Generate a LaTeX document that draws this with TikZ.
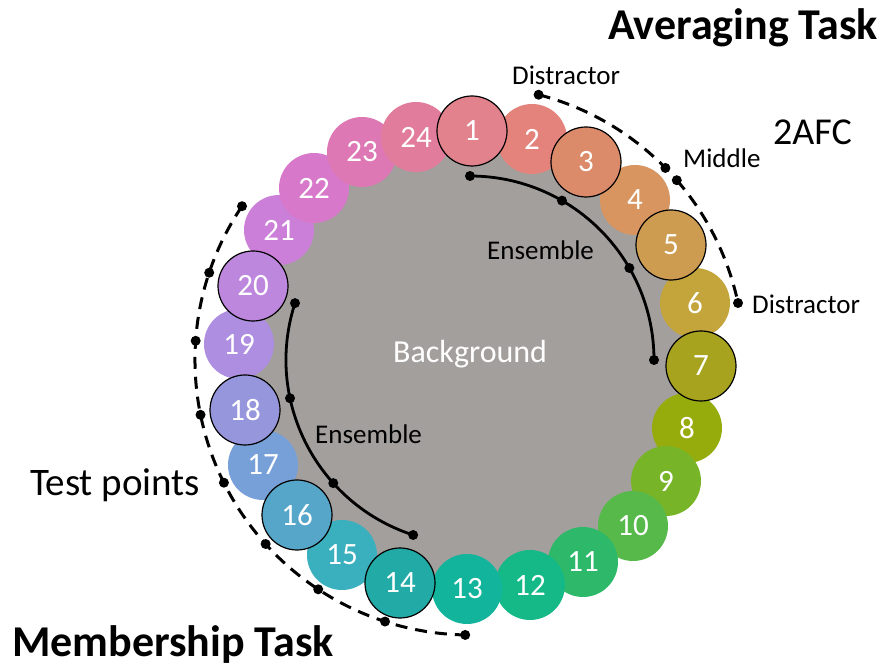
\documentclass[tikz,border=0pt]{standalone}
\usepackage{fontspec}
\setmainfont{Carlito}
\begin{document}
\begin{tikzpicture}[x=1pt,y=1pt,
  disk/.style={circle,minimum size=70,inner sep=0pt,text=white,font=\fontsize{31}{31}\selectfont},
  ringed/.style={draw=black,line width=1.2pt},
  tag/.style={inner sep=0pt,anchor=base west,font=\fontsize{27}{27}\selectfont},
  bigtag/.style={inner sep=0pt,anchor=base west,font=\fontsize{38}{38}\selectfont},
  task/.style={inner sep=0pt,font=\fontsize{44}{44}\selectfont\bfseries},
  ens/.style={line width=2.8pt},
  tst/.style={line width=3pt,dash pattern=on 12pt off 8pt}]
\useasboundingbox (0,0) rectangle (883,668);
\coordinate (ctr) at (470,308);
% background disc
\definecolor{bggray}{RGB}{163,159,157}
\node[circle,fill=bggray,minimum size=436,inner sep=0pt] (bg) at (ctr) {};
\node[tag,text=white,font=\fontsize{32}{32}\selectfont] (bgtxt) at (393,305) {Background};
% plain discs
\foreach \n/\x/\y/\c in {2/532/529/E3837B,4/635/468/D8955F,6/695/365/C3A53C,8/687/240/96AC0C,
  9/666/187/78B428,10/633/142/56B94A,11/583/106/2EB96A,12/530/83/14B987,13/467/79/12B49C,
  15/342/113/3AAFBE,17/263/203/78A0D8,19/239/324/AE8EE0,21/279/438/CC7FD8,
  22/314/480/D778CA,23/362/516/DE78B4,24/416/531/E27C9C}{
  \definecolor{diskcol}{HTML}{\c}
  \node[disk,fill=diskcol] (d\n) at (\x,\y) {\n};
}
% ringed discs
\foreach \n/\x/\y/\c in {1/472/537/E2828C,3/586/506/DB8A6A,5/671/423/CD9C50,7/701/302/A8A31E,
  14/400/85/22AAA6,16/297/153/55A6C8,18/245/258/9696DC,20/253/382/BE87DE}{
  \definecolor{diskcol}{HTML}{\c}
  \node[disk,ringed,fill=diskcol] (d\n) at (\x,\y) {\n};
}
% ensemble arcs
\coordinate (ensR) at ([shift={(ctr)}]90:184);
\coordinate (ensL) at ([shift={(ctr)}]162:184);
\draw[ens] (ensR) arc[start angle=90,end angle=0,radius=184];
\draw[ens] (ensL) arc[start angle=162,end angle=252,radius=184];
\foreach \a in {90,60,30,0,162,192,222,252} \fill ([shift={(ctr)}]\a:184) circle[radius=5];
\node[tag] (ensRtxt) at (487,408) {Ensemble};
\node[tag] (ensLtxt) at (315,224) {Ensemble};
% 2AFC arcs
\coordinate (afcA) at ([shift={(ctr)}]75.5:274);
\coordinate (afcB) at ([shift={(ctr)}]41:274);
\draw[tst] (afcA) arc[start angle=75.5,end angle=44.5,radius=274];
\draw[tst] (afcB) arc[start angle=41,end angle=12,radius=274];
\foreach \a in {75.5,44.5,41,12} \fill ([shift={(ctr)}]\a:274) circle[radius=5];
\node[tag] (dis1) at (512,583) {Distractor};
\node[tag] (mid) at (683,500) {Middle};
\node[tag] (dis2) at (752,354) {Distractor};
\node[bigtag] (afc) at (773,523) {2AFC};
% test points arc
\coordinate (tstL) at ([shift={(ctr)}]146:275);
\draw[tst] (tstL) arc[start angle=146,end angle=269,radius=275];
\foreach \a in {146,161.5,176,191.5,206.5,222,236.5,252,269} \fill ([shift={(ctr)}]\a:275) circle[radius=5];
\node[bigtag,font=\fontsize{39}{39}\selectfont] (tp) at (30,172) {Test points};
% task titles
\node[task,anchor=base east] (avg) at (878,628.5) {Averaging Task};
\node[task,anchor=base west] (mem) at (12,11) {Membership Task};
\end{tikzpicture}
\end{document}
